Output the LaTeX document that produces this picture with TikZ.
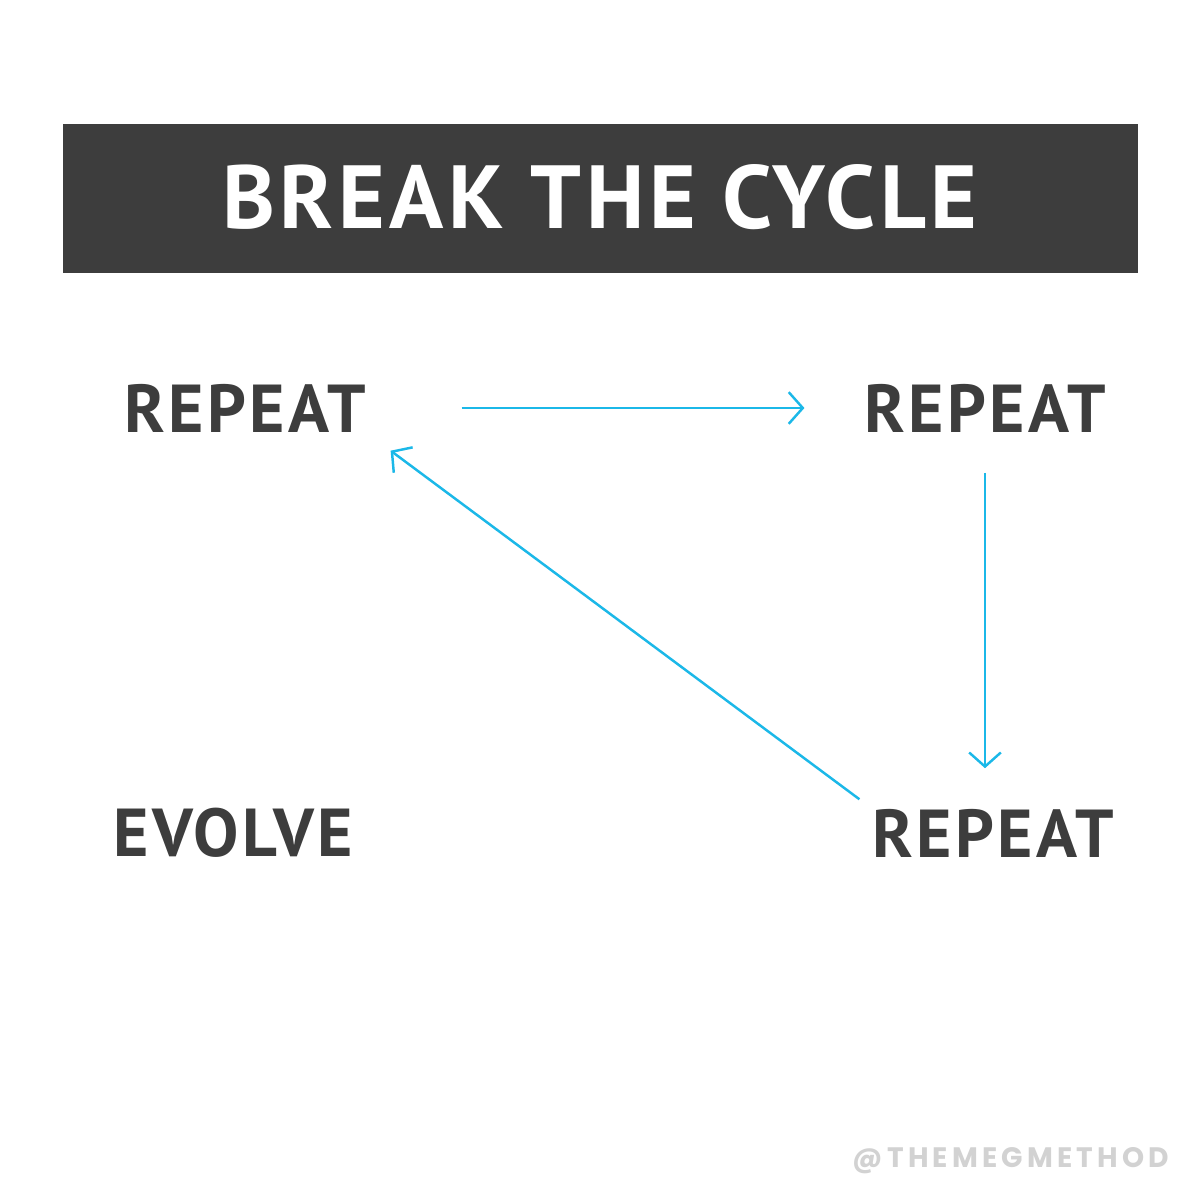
\documentclass[tikz,border=0pt]{standalone}
\usepackage{fontspec}
\setmainfont{PT Sans}
\newfontfamily\wordfont[LetterSpace=5]{PT Sans}
\newfontfamily\markfont[LetterSpace=15]{Poppins}
\usetikzlibrary{arrows.meta}
\definecolor{darkgrey}{HTML}{3D3D3D}
\definecolor{cyanline}{HTML}{1BB8E8}
\definecolor{markgrey}{HTML}{D2D2D2}
\tikzset{
    word/.style={text=darkgrey, font=\wordfont\bfseries\fontsize{19.3}{22}\selectfont, inner sep=0pt},
    flow/.style={draw=cyanline, line width=0.7pt, -{Straight Barb[length=4pt,width=9pt]}}
}
\begin{document}
\begin{tikzpicture}
        \useasboundingbox[fill=white] (0,0) rectangle (12,12);
        \fill[darkgrey] (0.63,9.27) rectangle (11.38,10.76);
        \node[text=white, font=\wordfont\bfseries\fontsize{25.5}{30}\selectfont, anchor=center] (heading) at (6.0,10.03) {BREAK THE CYCLE};
        \node[word] (repa) at (2.45,7.92) {REPEAT};
        \node[word] (repb) at (9.85,7.92) {REPEAT};
        \node[word] (repc) at (9.93,3.67) {REPEAT};
        \node[word] (evolve) at (2.33,3.67) {EVOLVE};
        \draw[flow, shorten <=0.95cm, shorten >=0.59cm] (repa.east) -- (repb.west);
        \draw[flow, shorten <=0.4cm, shorten >=0.4cm] (repb.south) -- (repb.south |- repc.north);
        \draw[flow, shorten <=0.15cm, shorten >=0.3cm] (repc.north west) -- (repa.south east);
        \node[text=markgrey, font=\markfont\bfseries\fontsize{8}{10}\selectfont] (mark) at (10.11,0.39) {@THEMEGMETHOD};
    \end{tikzpicture}
\end{document}
